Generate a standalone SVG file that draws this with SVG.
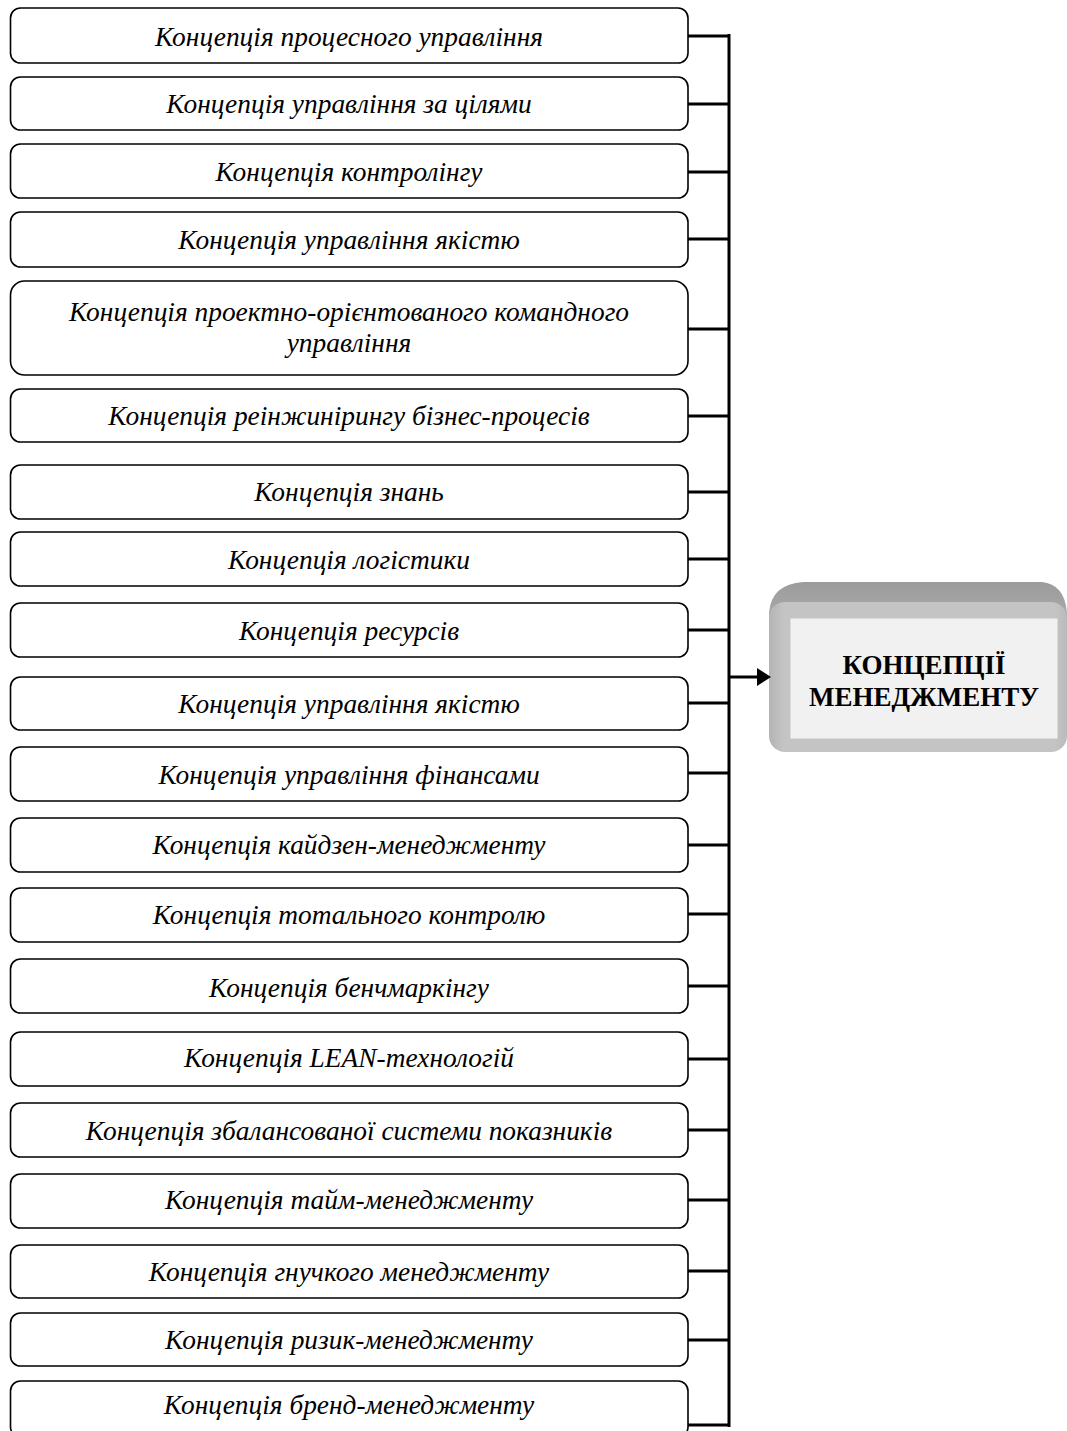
<svg xmlns="http://www.w3.org/2000/svg" width="1067" height="1431" viewBox="0 0 1067 1431">
<style>
.box{fill:#fff;stroke:#000;stroke-width:1.6}
.t{font-family:"Liberation Serif","Times New Roman",serif;font-style:italic;font-size:27.4px;text-anchor:middle;fill:#000}
.c{stroke:#000;stroke-width:3;fill:none}
.h{font-family:"Liberation Serif","Times New Roman",serif;font-weight:bold;font-size:27px;text-anchor:middle;fill:#000}
</style>
<defs>
<linearGradient id="topg" x1="0" y1="0" x2="0" y2="1">
<stop offset="0" stop-color="#9c9c9c"/>
<stop offset="0.6" stop-color="#a4a4a4"/>
<stop offset="1" stop-color="#b4b4b4"/>
</linearGradient>
<linearGradient id="faceg" x1="0" y1="0" x2="1" y2="0">
<stop offset="0" stop-color="#b4b4b4"/>
<stop offset="0.05" stop-color="#c4c4c4"/>
<stop offset="0.96" stop-color="#c4c4c4"/>
<stop offset="1" stop-color="#bababa"/>
</linearGradient>
</defs>
<rect width="1067" height="1431" fill="#fff"/>
<g id="n1"><rect class="box" x="10.5" y="8" width="677.5" height="55" rx="10"/><text class="t" x="349" y="46">Концепція процесного управління</text></g>
<g id="n2"><rect class="box" x="10.5" y="77" width="677.5" height="53" rx="10"/><text class="t" x="349" y="113">Концепція управління за цілями</text></g>
<g id="n3"><rect class="box" x="10.5" y="144" width="677.5" height="54" rx="10"/><text class="t" x="349" y="181">Концепція контролінгу</text></g>
<g id="n4"><rect class="box" x="10.5" y="212" width="677.5" height="55" rx="10"/><text class="t" x="349" y="249">Концепція управління якістю</text></g>
<g id="n5"><rect class="box" x="10.5" y="281" width="677.5" height="94" rx="14"/><text class="t" x="349" y="321">Концепція проектно-орієнтованого командного</text><text class="t" x="349" y="352">управління</text></g>
<g id="n6"><rect class="box" x="10.5" y="389" width="677.5" height="53" rx="10"/><text class="t" x="349" y="425">Концепція реінжинірингу бізнес-процесів</text></g>
<g id="n7"><rect class="box" x="10.5" y="465" width="677.5" height="54" rx="10"/><text class="t" x="349" y="501">Концепція знань</text></g>
<g id="n8"><rect class="box" x="10.5" y="532" width="677.5" height="54" rx="10"/><text class="t" x="349" y="569">Концепція логістики</text></g>
<g id="n9"><rect class="box" x="10.5" y="603" width="677.5" height="54" rx="10"/><text class="t" x="349" y="640">Концепція ресурсів</text></g>
<g id="n10"><rect class="box" x="10.5" y="677" width="677.5" height="53" rx="10"/><text class="t" x="349" y="713">Концепція управління якістю</text></g>
<g id="n11"><rect class="box" x="10.5" y="747" width="677.5" height="54" rx="10"/><text class="t" x="349" y="784">Концепція управління фінансами</text></g>
<g id="n12"><rect class="box" x="10.5" y="818" width="677.5" height="54" rx="10"/><text class="t" x="349" y="854">Концепція кайдзен-менеджменту</text></g>
<g id="n13"><rect class="box" x="10.5" y="888" width="677.5" height="54" rx="10"/><text class="t" x="349" y="924">Концепція тотального контролю</text></g>
<g id="n14"><rect class="box" x="10.5" y="959" width="677.5" height="54" rx="10"/><text class="t" x="349" y="997">Концепція бенчмаркінгу</text></g>
<g id="n15"><rect class="box" x="10.5" y="1032" width="677.5" height="54" rx="10"/><text class="t" x="349" y="1067">Концепція LEAN-технологій</text></g>
<g id="n16"><rect class="box" x="10.5" y="1103" width="677.5" height="54" rx="10"/><text class="t" x="349" y="1140">Концепція збалансованої системи показників</text></g>
<g id="n17"><rect class="box" x="10.5" y="1174" width="677.5" height="54" rx="10"/><text class="t" x="349" y="1209">Концепція тайм-менеджменту</text></g>
<g id="n18"><rect class="box" x="10.5" y="1245" width="677.5" height="53" rx="10"/><text class="t" x="349" y="1281">Концепція гнучкого менеджменту</text></g>
<g id="n19"><rect class="box" x="10.5" y="1313" width="677.5" height="53" rx="10"/><text class="t" x="349" y="1349">Концепція ризик-менеджменту</text></g>
<g id="n20"><rect class="box" x="10.5" y="1381" width="677.5" height="56" rx="10"/><text class="t" x="349" y="1414">Концепція бренд-менеджменту</text></g>
<g id="main">
<path d="M803,582 H1042 Q1064,584 1067,612 V620 H769 V612 Q772,584 803,582 Z" fill="url(#topg)"/>
<rect x="769" y="602" width="298" height="150" rx="16" fill="url(#faceg)"/>
<rect x="790.5" y="618.5" width="267" height="120" fill="#f1f1f1"/>
<text class="h" x="924" y="674">КОНЦЕПЦІЇ</text>
<text class="h" x="924" y="706">МЕНЕДЖМЕНТУ</text>
</g>
<g id="connectors">
<path class="c" d="M729,34 V1427"/>
<path class="c" d="M688,36 H729 M688,104 H729 M688,172 H729 M688,239 H729 M688,329 H729 M688,416 H729 M688,492 H729 M688,559 H729 M688,630 H729 M688,703 H729 M688,773 H729 M688,845 H729 M688,914 H729 M688,986 H729 M688,1059 H729 M688,1130 H729 M688,1200 H729 M688,1271 H729 M688,1340 H729 M688,1425 H729"/>
<path class="c" d="M729,677 H758"/>
<path d="M757,668 L771,677 L757,686 Z" fill="#000"/>
</g>
</svg>
